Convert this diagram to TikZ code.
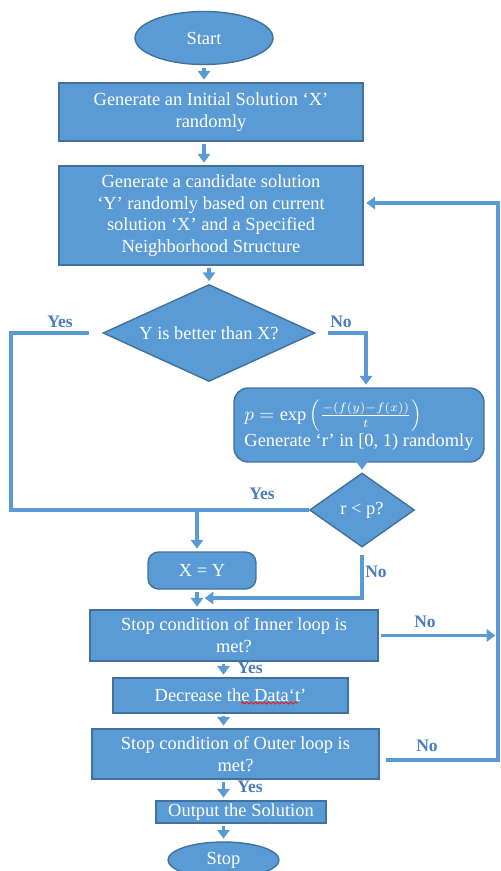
\documentclass[tikz,border=0pt]{standalone}
\usepackage{fontspec}
\setmainfont{Liberation Serif}
\usetikzlibrary{arrows.meta,shapes.geometric,decorations.pathmorphing}
\definecolor{cFill}{HTML}{5B9BD5}
\definecolor{cEdge}{HTML}{41719C}
\definecolor{cLabel}{HTML}{4A7CC0}

\begin{document}
\begin{tikzpicture}[x=0.02cm, y=-0.02cm,
    blk/.style={draw=cEdge, fill=cFill, line width=0.8pt, text=white, font=\fontsize{10.5}{12.4}\selectfont, align=center, inner sep=1pt},
    term/.style={blk, ellipse},
    proc/.style={blk, rectangle},
    rproc/.style={blk, rectangle, rounded corners=6pt},
    dec/.style={blk, diamond, aspect=2.2, inner sep=0pt},
    wire/.style={cFill, line width=2pt},
    conn/.style={wire, -{Triangle[length=5pt,width=7pt]}, shorten >=1.5pt, shorten <=1.5pt},
    yn/.style={font=\fontsize{10}{12}\selectfont\bfseries, text=cLabel}
]
\useasboundingbox (0,0) rectangle (500,871);

\node[term, minimum width=2.76cm, minimum height=1.06cm] (start) at (204,38) {Start};
\node[proc, minimum width=6.08cm, minimum height=1.16cm] (init) at (211,112)
    {Generate an Initial Solution `X'\\randomly};
\node[proc, minimum width=6.08cm, minimum height=1.98cm] (cand) at (211,215.5)
    {Generate a candidate solution\\`Y' randomly based on current\\solution `X' and a Specified\\Neighborhood Structure};
\node[dec, minimum width=4.24cm, minimum height=1.94cm] (better) at (209,333) {Y is better than X?};
\node[rproc, minimum width=5cm, minimum height=1.48cm, align=left, rounded corners=8pt] (prob) at (359,425)
    {$p=\exp\left(\frac{-(f(y)-f(x))}{t}\right)$\\Generate `r' in [0, 1) randomly};
\node[dec, aspect=1.4, minimum width=2.1cm, minimum height=1.48cm] (rp) at (362,510) {r < p?};
\node[rproc, minimum width=2.16cm, minimum height=0.74cm] (xy) at (202,570.5) {X = Y};
\node[proc, minimum width=5.76cm, minimum height=1.02cm] (inner) at (234,635.5)
    {Stop condition of Inner loop is\\met?};
\node[proc, minimum width=4.7cm, minimum height=0.7cm] (decr) at (230.5,695.5) {Decrease the Data`t'};
\node[proc, minimum width=5.74cm, minimum height=1cm] (outer) at (235.5,754)
    {Stop condition of Outer loop is\\met?};
\node[proc, minimum width=3.4cm, minimum height=0.44cm] (output) at (241,812) {Output the Solution};
\node[term, minimum width=2.22cm, minimum height=0.72cm] (stop) at (223.5,860) {Stop};

\coordinate (yl) at (11,333);
\coordinate (yd) at (197,509);
\coordinate (nj) at (197,598);
\coordinate (rx) at (498,632);
\coordinate (rt) at (498,203);

\node[yn] (yes1) at (60,322) {Yes};
\node[yn] (no1) at (341,322) {No};
\node[yn] (yes2) at (262,494) {Yes};
\node[yn] (no2) at (376,572) {No};
\node[yn] (no3) at (425,622) {No};
\node[yn] (yes3) at (250,668) {Yes};
\node[yn] (no4) at (427,746) {No};
\node[yn] (yes4) at (250,787) {Yes};

\draw[conn] (start.south) -- (start.south |- init.north);
\draw[conn] (init.south -| start.south) -- (cand.north -| start.south);
\draw[conn] (cand.south -| better.north) -- (better.north);
\draw[wire] ([xshift=-0.26cm]better.west) -- (yl) |- (rp.west);
\draw[conn] (yd) -- (xy.north -| yd);
\draw[conn] ([xshift=0.2cm]better.east) -| ([xshift=0.14cm]prob.north);
\draw[conn] (prob.south -| rp.north) -- (rp.north);
\draw[conn] ([yshift=-0.1cm]rp.south) |- ([xshift=0.1cm]nj);
\draw[conn] (xy.south -| yd) -- (inner.north -| yd);
\draw[conn] (inner.east) -- (inner.east -| rx);
\draw[conn] (inner.south -| stop.north) -- (decr.north -| stop.north);
\draw[conn] (decr.south -| stop.north) -- (outer.north -| stop.north);
\draw[conn] ([xshift=0.08cm,yshift=-0.12cm]outer.east) -| (rt) -- (cand.east |- rt);
\draw[conn] (outer.south -| stop.north) -- (output.north -| stop.north);
\draw[conn] (output.south -| stop.north) -- (stop.north);

\draw[red, decorate, decoration={snake, amplitude=0.6pt, segment length=2.5pt}] (241,703) -- (298,703);

\end{tikzpicture}
\end{document}
